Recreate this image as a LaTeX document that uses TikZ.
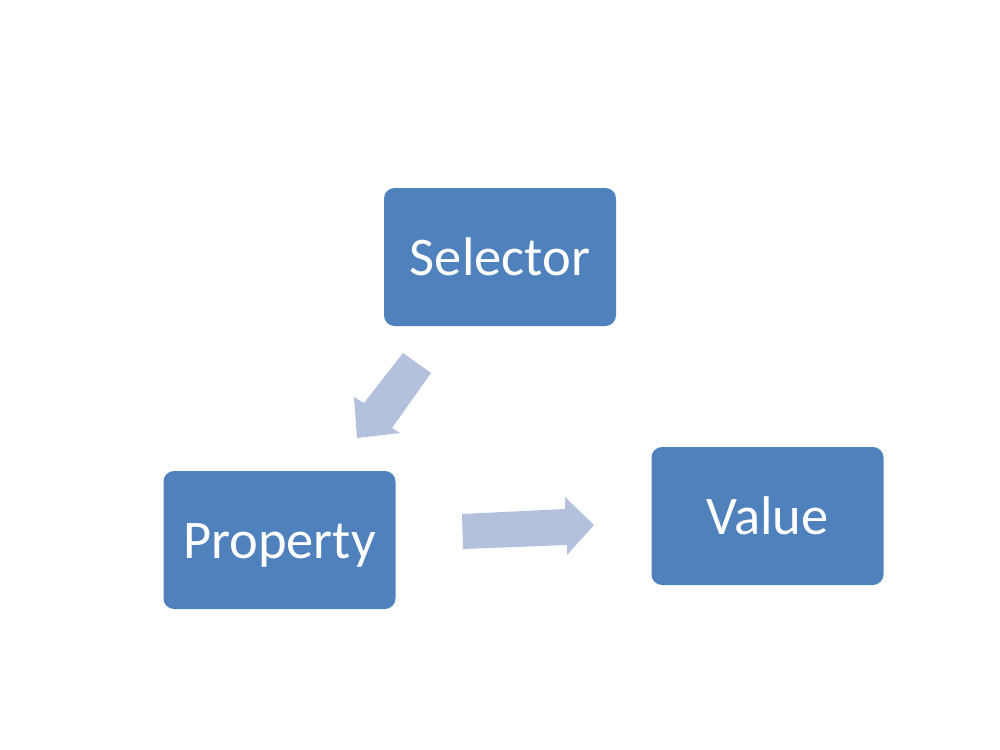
\documentclass[tikz,border=0pt]{standalone}
\usepackage{fontspec}
\setmainfont{Carlito}
\usepackage{tikz}

\definecolor{boxblue}{HTML}{4F81BD}
\definecolor{arrowblue}{HTML}{B3C1DD}

\tikzset{
    termbox/.style={draw=none, fill=boxblue, rounded corners=6pt, text=white,
        minimum width=232*0.02cm, minimum height=138*0.02cm,
        text height=21.5pt, text depth=0pt,
        font=\fontsize{31}{37}\selectfont},
    blockarrow/.style={fill=arrowblue, draw=none}
}

\begin{document}
\begin{tikzpicture}[x=0.02cm, y=-0.02cm]
                    \useasboundingbox (0,0) rectangle (1000,750);

                    % Boxes
                    \node[termbox] (Selector) at (500,257) {Selector};
                    \node[termbox] (Property) at (279.5,540) {Property};
                    \node[termbox] (Value) at (767.5,516) {Value};

                    % Arrow from selector down to property
                    \fill[blockarrow] (403,353) -- (431,373) -- (392,428) -- (400,433)
                        -- (357,438) -- (354,397) -- (364,403) -- cycle;

                    % Arrow from property across to value
                    \fill[blockarrow] (462,514) -- (565,509) -- (565,497) -- (594,525)
                        -- (567,555) -- (567,545) -- (463,549) -- cycle;
                \end{tikzpicture}
\end{document}
